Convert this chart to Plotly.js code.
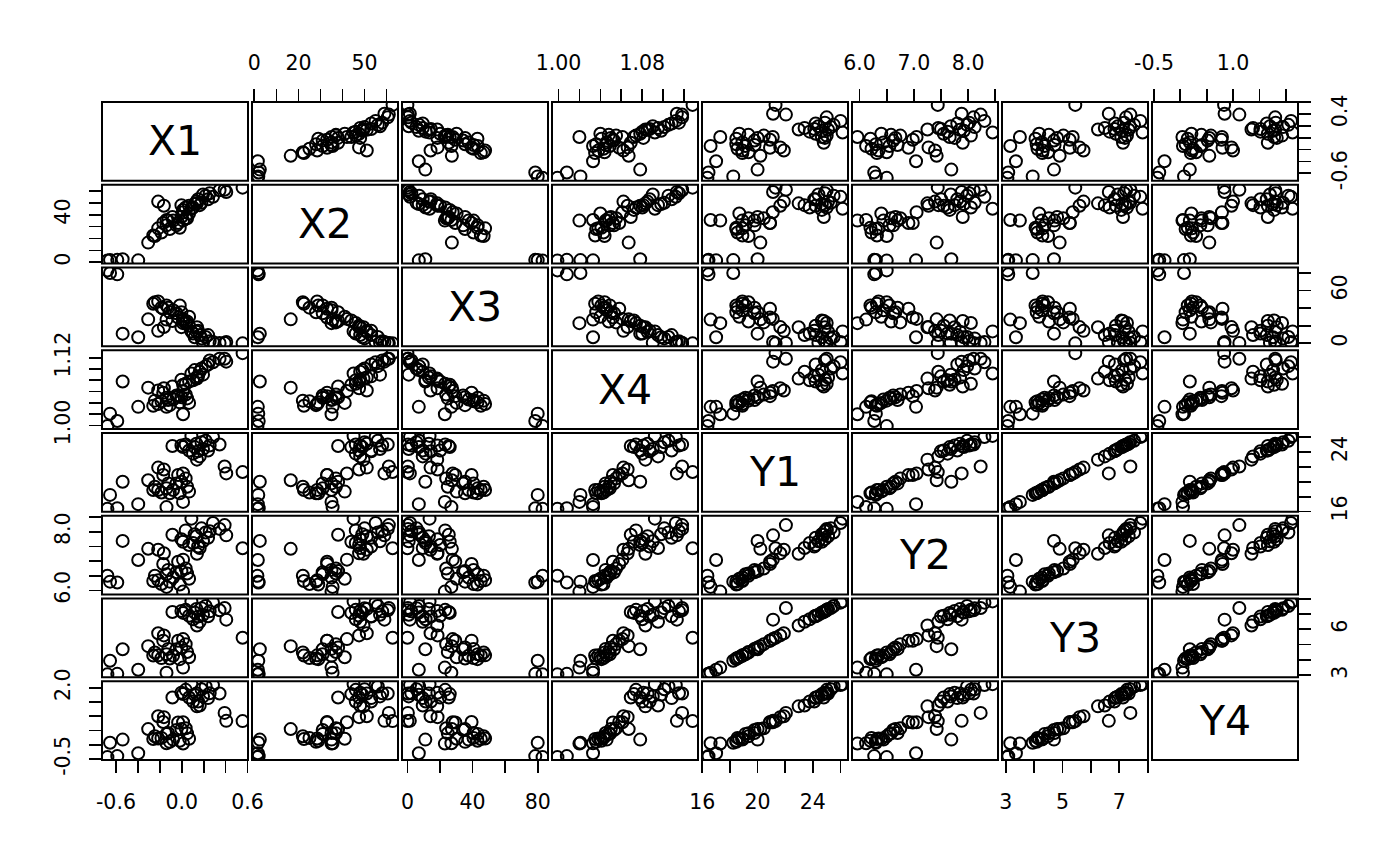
<!DOCTYPE html>
<html>
<head>
<meta charset="utf-8">
<script src="https://cdn.plot.ly/plotly-3.0.1.min.js"></script>
<style>html,body{margin:0;padding:0;background:#fff;}</style>
</head>
<body>
<div id="chart" style="width:1400px;height:866px;"></div>
<script>
const varNames = ['X1','X2','X3','X4','Y1','Y2','Y3','Y4'];

const X1 = [-0.085,-0.003,0.036,0.088,0.134,0.180,0.218,0.285,0.345,0.067,0.103,0.139,0.164,0.194,0.240,0.149,0.012,0.118,0.255,
  -0.215,-0.163,-0.169,-0.306,-0.245,-0.215,-0.185,-0.139,-0.109,-0.079,-0.033,0.012,0.036,-0.003,0.049,0.067,-0.048,-0.124,-0.260,-0.018,
  0.391,0.406,0.555,-0.539,-0.654,-0.678,-0.588,-0.397,-0.139,0.012];
const X2 = [38.0,48.0,46.0,45.0,51.0,50.0,56.0,55.0,60.5,47.5,46.0,49.5,48.0,57.0,53.0,53.0,44.0,49.0,58.0,
  51.0,47.5,33.0,16.5,22.0,28.5,25.0,31.0,28.0,35.0,33.0,42.0,37.0,38.0,37.0,41.0,31.0,35.0,22.5,29.0,
  61.0,59.0,62.7,2.5,1.8,1.4,2.0,1.6,35.5,35.0];
const X3 = [25.4,18.4,23.2,13.6,13.2,5.6,7.2,1.6,0.4,20.1,11.2,18.3,9.4,0.8,9.4,14.4,26.0,7.0,2.4,
  14.2,18.5,39.4,27.3,46.8,47.7,40.6,43.2,35.4,37.6,29.4,27.8,23.8,35.4,24.8,30.2,34.2,40.6,45.1,43.0,
  0.3,1.5,0.0,11.0,80.0,83.0,78.5,7.0,27.0,23.0];
const X4 = [1.069,1.081,1.074,1.092,1.085,1.101,1.105,1.112,1.118,1.078,1.080,1.083,1.095,1.090,1.108,1.087,1.072,1.098,1.115,
  1.062,1.066,1.058,1.067,1.044,1.038,1.043,1.049,1.036,1.046,1.052,1.061,1.055,1.050,1.048,1.040,1.053,1.045,1.035,1.041,
  1.118,1.113,1.128,1.078,1.021,0.999,1.008,1.033,1.033,1.020];
const Y1 = [24.79,24.87,25.00,26.15,25.10,25.30,25.50,26.00,25.00,24.20,23.77,22.97,23.40,24.40,24.20,24.10,24.65,24.65,24.87,
  21.90,21.64,20.90,20.20,19.34,18.90,18.55,19.12,18.46,18.90,20.90,21.10,20.45,20.00,19.34,18.68,19.78,19.78,18.90,18.46,
  22.05,21.12,21.30,20.00,18.24,16.37,16.45,17.00,16.60,17.30];
const Y2 = [7.90,7.75,8.05,8.45,7.85,8.12,7.98,8.30,8.10,7.55,7.62,7.25,7.45,7.68,7.80,7.50,7.66,7.92,8.02,
  7.39,7.27,6.90,7.42,6.50,6.35,6.22,6.55,6.30,6.44,6.98,7.05,6.75,6.66,6.58,6.40,6.62,6.70,6.32,6.20,
  8.23,7.88,7.44,7.69,6.30,6.50,6.27,7.04,6.12,5.96];
const Y3 = [7.13,7.20,7.27,7.82,7.33,7.38,7.52,7.74,7.24,6.88,6.66,6.25,6.49,6.95,6.85,6.83,7.07,7.10,7.17,
  5.74,5.60,5.26,4.90,4.49,4.30,4.12,4.37,4.09,4.27,5.25,5.36,5.03,4.81,4.52,4.18,4.70,4.72,4.29,4.05,
  7.39,6.63,5.45,4.70,3.95,3.06,3.09,3.36,3.16,3.50];
const Y4 = [1.66,1.83,1.93,2.13,1.80,1.95,2.05,2.10,1.80,1.66,1.52,1.35,1.38,1.70,1.64,1.52,1.78,1.76,1.81,
  1.00,0.97,0.80,0.55,0.30,0.22,0.24,0.38,0.10,0.18,0.78,0.79,0.58,0.55,0.40,0.21,0.52,0.41,0.20,0.14,
  1.12,0.84,0.83,0.18,0.07,-0.435,-0.40,-0.30,0.05,0.04];

// ---- tick positions and tick labels (empty label = label skipped, as in the picture) ----
const X1_ticks = [-0.6,-0.4,-0.2,0,0.2,0.4,0.6];
const X1_labelsH = ['-0.6','','','0.0','','','0.6'];
const X1_labelsV = ['-0.6','','','','','0.4',''];
const X2_ticks = [0,10,20,30,40,50,60];
const X2_labelsH = ['0','','20','','','50',''];
const X2_labelsV = ['0','','','','40','',''];
const X3_ticks = [0,20,40,60,80];
const X3_labelsH = ['0','','40','','80'];
const X3_labelsV = ['0','','','60',''];
const X4_ticks = [1.00,1.02,1.04,1.06,1.08,1.10,1.12];
const X4_labelsH = ['1.00','','','','1.08','',''];
const X4_labelsV = ['1.00','','','','','','1.12'];
const Y1_ticks = [16,18,20,22,24,26];
const Y1_labelsH = ['16','','20','','24',''];
const Y1_labelsV = ['16','','','','24',''];
const Y2_ticks = [6.0,6.5,7.0,7.5,8.0,8.5];
const Y2_labelsH = ['6.0','','7.0','','8.0',''];
const Y2_labelsV = ['6.0','','','','8.0',''];
const Y3_ticks = [3,4,5,6,7,8];
const Y3_labelsH = ['3','','5','','7',''];
const Y3_labelsV = ['3','','','6','',''];
const Y4_ticks = [-0.5,0.0,0.5,1.0,1.5,2.0];
const Y4_labelsH = ['-0.5','','','1.0','',''];
const Y4_labelsV = ['-0.5','','','','','2.0'];

// ---- assemble ----
const series = [X1,X2,X3,X4,Y1,Y2,Y3,Y4];
const ticks = [X1_ticks,X2_ticks,X3_ticks,X4_ticks,Y1_ticks,Y2_ticks,Y3_ticks,Y4_ticks];
const labelsH = [X1_labelsH,X2_labelsH,X3_labelsH,X4_labelsH,Y1_labelsH,Y2_labelsH,Y3_labelsH,Y4_labelsH];
const labelsV = [X1_labelsV,X2_labelsV,X3_labelsV,X4_labelsV,Y1_labelsV,Y2_labelsV,Y3_labelsV,Y4_labelsV];

function extRange(a){
  const mn = Math.min(...a), mx = Math.max(...a), d = (mx-mn)*0.04;
  return [mn-d, mx+d];
}
const W = 1400, H = 866;
const n = 8;
const left0 = 102, colW = 146, colP = 150;
const top0 = 102, rowH = 78.75, rowP = 82.75;
const axName = (p, i) => p + (i === 0 ? '' : (i+1));
const fontFam = 'DejaVu Sans, Verdana, sans-serif';

const layout = {
  width: W, height: H,
  margin: {l:0, r:0, t:0, b:0},
  paper_bgcolor: '#fff', plot_bgcolor: '#fff',
  showlegend: false,
  annotations: [], shapes: []
};

for (let c = 0; c < n; c++) {
  const l = left0 + c*colP;
  const top = (c % 2 === 1);
  layout[c === 0 ? 'xaxis' : 'xaxis'+(c+1)] = {
    domain: [l/W, (l+colW)/W],
    range: extRange(series[c]),
    anchor: top ? 'y' : axName('y', n-1),
    side: top ? 'top' : 'bottom',
    showgrid:false, zeroline:false, showline:false,
    ticks:'outside', ticklen:12, tickwidth:1.7, tickcolor:'#000',
    tickmode:'array', tickvals: ticks[c], ticktext: labelsH[c],
    tickfont:{family:fontFam, size:20.5, color:'#000'},
    ticklabelstandoff: 11,
    tickangle: 0,
    fixedrange:true
  };
}
for (let r = 0; r < n; r++) {
  const t = top0 + r*rowP;
  const right = (r % 2 === 0);
  layout[r === 0 ? 'yaxis' : 'yaxis'+(r+1)] = {
    domain: [1-(t+rowH)/H, 1-t/H],
    range: extRange(series[r]),
    anchor: right ? axName('x', n-1) : 'x',
    side: right ? 'right' : 'left',
    showgrid:false, zeroline:false, showline:false,
    ticks:'outside', ticklen:12, tickwidth:1.7, tickcolor:'#000',
    tickmode:'array', tickvals: ticks[r], ticktext: labelsV[r],
    tickfont:{family:fontFam, size:20.5, color:'#000'},
    ticklabelstandoff: 11,
    tickangle: -90,
    fixedrange:true
  };
}

const traces = [];
for (let r = 0; r < n; r++) {
  for (let c = 0; c < n; c++) {
    const xr = axName('x', c), yr = axName('y', r);
    layout.shapes.push({type:'rect', xref: xr+' domain', yref: yr+' domain',
      x0:0, x1:1, y0:0, y1:1, line:{color:'#000', width:2}, layer:'above'});
    if (r === c) {
      layout.annotations.push({xref: xr+' domain', yref: yr+' domain', x:0.5, y:0.5,
        text: varNames[r], showarrow:false, xanchor:'center', yanchor:'middle',
        font:{family:fontFam, size:41, color:'#000'}});
      continue;
    }
    traces.push({
      type:'scatter', mode:'markers',
      x: series[c], y: series[r],
      xaxis: xr, yaxis: yr,
      marker:{symbol:'circle-open', size:12, color:'#000', line:{width:2, color:'#000'}},
      hoverinfo:'skip', showlegend:false
    });
  }
}

Plotly.newPlot('chart', traces, layout, {staticPlot:true, displayModeBar:false});
</script>
</body>
</html>
